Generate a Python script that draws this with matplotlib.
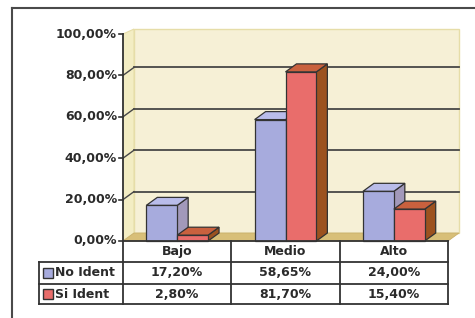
import matplotlib
matplotlib.use('Agg')
import matplotlib.pyplot as plt
from matplotlib.patches import Polygon, Rectangle
from matplotlib.lines import Line2D

categories = ['Bajo', 'Medio', 'Alto']
series_names = ['No Ident', 'Si Ident']
no_ident = [17.20, 58.65, 24.00]
si_ident = [2.80, 81.70, 15.40]
y_ticks = [0, 20, 40, 60, 80, 100]

front_cols = ['#A7ABDD', '#E96D6B']
top_cols = ['#B9BCEA', '#C9613E']
side_cols = ['#A299BA', '#9C521F']
legend_cols = ['#A7ABDD', '#E96D6B']

W, H = 475, 318
fig = plt.figure(figsize=(4.75, 3.18), dpi=100)
fig.patch.set_facecolor('white')

# outer frame (only left/top visible)
fig.add_artist(Line2D([12 / W, 12 / W], [0, 1 - 8 / H], color='#4a4a4a', lw=1.5))
fig.add_artist(Line2D([12 / W, 1], [1 - 8 / H, 1 - 8 / H], color='#4a4a4a', lw=1.5))

x0, x1, y0, y1 = 123, 448, 241, 34
ax = fig.add_axes([x0 / W, 1 - y0 / H, (x1 - x0) / W, (y0 - y1) / H])
ax.set_xlim(0, 3)
ax.set_ylim(0, 100)
ax.axis('off')
px_x = 3 / (x1 - x0)
px_y = 100 / (y0 - y1)
dx = 11 * px_x
dy = 8 * px_y
wall_top = 102.4

line_col = '#333333'
txt_col = '#2a2a2a'
fkw = dict(fontsize=9, fontweight='bold', color=txt_col, family='DejaVu Sans')

# walls and floor
ax.add_patch(Rectangle((dx, dy), 3, wall_top - dy, facecolor='#F6F0D6', edgecolor='#E6DDA8', lw=1, clip_on=False, zorder=0))
ax.add_patch(Polygon([(0, 0), (dx, dy), (dx, wall_top), (0, 100)], closed=True,
                     facecolor='#F3EDC3', edgecolor='#E6DDA8', lw=0.8, clip_on=False, zorder=0.5))
ax.add_patch(Polygon([(0, 0), (3, 0), (3 + dx, dy), (dx, dy)], closed=True,
                     facecolor='#D8BF78', edgecolor='#C9B06A', lw=0.6, clip_on=False, zorder=0.6))

# gridlines on back wall + diagonal ticks on side wall
for t in y_ticks[1:-1]:
    ax.plot([dx, 3 + dx], [t + dy, t + dy], color='#474747', lw=1.3, clip_on=False, zorder=1)
    ax.plot([0, dx], [t, t + dy], color='#474747', lw=1.0, clip_on=False, zorder=1)

# front value axis
ax.plot([0, 0], [0, 100], color=line_col, lw=1.3, clip_on=False, zorder=5)
for t in y_ticks:
    ax.plot([-4 * px_x, 0], [t, t], color=line_col, lw=1.2, clip_on=False, zorder=5)
    ax.text(-6 * px_x, t, ('%.2f%%' % t).replace('.', ','), ha='right', va='center', **fkw)

# bars
w = 0.285
series = [no_ident, si_ident]
for j, vals in enumerate(series):
    lefts = [i + 0.5 - w + j * w for i in range(len(categories))]
    z = 3 + j
    for l, v in zip(lefts, vals):
        ax.add_patch(Polygon([(l + w, 0), (l + w + dx, dy), (l + w + dx, v + dy), (l + w, v)], closed=True,
                             facecolor=side_cols[j], edgecolor=line_col, lw=0.9, clip_on=False, zorder=z))
        ax.add_patch(Polygon([(l, v), (l + w, v), (l + w + dx, v + dy), (l + dx, v + dy)], closed=True,
                             facecolor=top_cols[j], edgecolor=line_col, lw=0.9, clip_on=False, zorder=z))
    ax.bar(lefts, vals, width=w, align='edge', color=front_cols[j], edgecolor=line_col,
           lw=0.9, clip_on=False, zorder=z + 0.1)

# data table
r0, r1, r2, r3 = 0, -21 * px_y, -43 * px_y, -63 * px_y
xl = -84 * px_x
tl = dict(color=line_col, lw=1.3, clip_on=False, zorder=6)
ax.plot([0, 3], [r0, r0], **tl)
for r in (r1, r2, r3):
    ax.plot([xl, 3], [r, r], **tl)
for xv in (0, 1, 2, 3):
    ax.plot([xv, xv], [r0, r3], **tl)
ax.plot([xl, xl], [r1, r3], **tl)

for i, c in enumerate(categories):
    ax.text(i + 0.5, (r0 + r1) / 2, c, ha='center', va='center', clip_on=False, **fkw)
rows = [(r1, r2), (r2, r3)]
for j, vals in enumerate(series):
    ya, yb = rows[j]
    yc = (ya + yb) / 2
    for i, v in enumerate(vals):
        ax.text(i + 0.5, yc, ('%.2f%%' % v).replace('.', ','), ha='center', va='center', clip_on=False, **fkw)
    ax.add_patch(Rectangle((xl + 4 * px_x, yc - 5 * px_y), 10 * px_x, 10 * px_y,
                           facecolor=legend_cols[j], edgecolor=line_col, lw=1, clip_on=False, zorder=6))
    ax.text(xl + 16 * px_x, yc, series_names[j], ha='left', va='center', clip_on=False, **fkw)

fig.savefig('out.png', dpi=100, facecolor='white')
